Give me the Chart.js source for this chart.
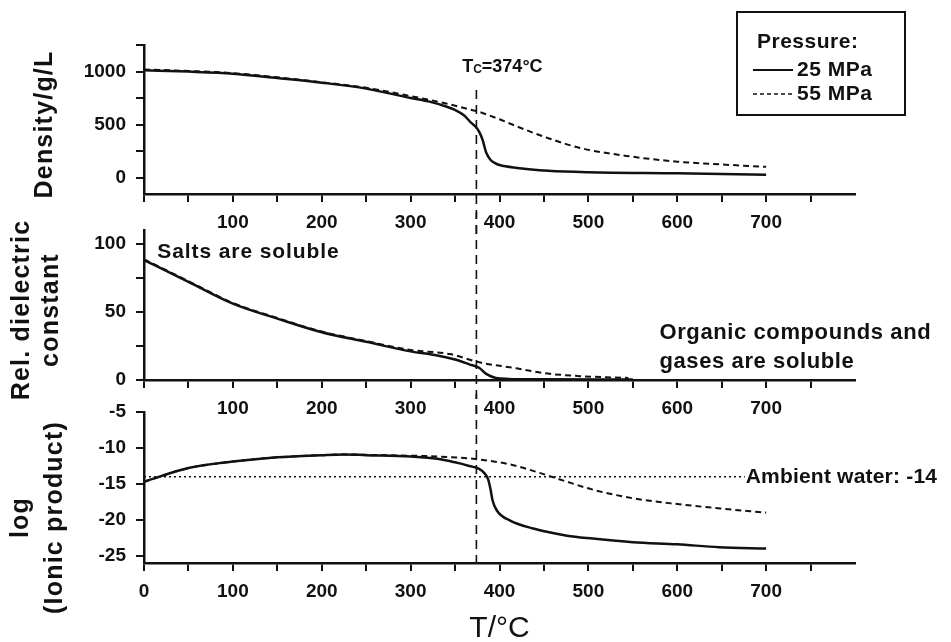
<!DOCTYPE html>
<html>
<head>
<meta charset="utf-8">
<title>Water properties vs temperature</title>
<script src="https://cdn.jsdelivr.net/npm/chart.js@4/dist/chart.umd.min.js"></script>
<style>
  html, body { margin: 0; padding: 0; background: #fff; }
  #wrap { position: relative; width: 951px; height: 642px; }
  #wrap canvas { position: absolute; left: 0; top: 0; }
</style>
</head>
<body>
<div id="wrap">
  <canvas id="densityChart" width="951" height="642"></canvas>
  <canvas id="dielectricChart" width="951" height="642"></canvas>
  <canvas id="ionicChart" width="951" height="642"></canvas>
</div>
<script>
// temperature in °C, one array per curve
const density25T = [0, 50, 100, 150, 200, 250, 300, 320, 340, 350, 360, 368, 374, 378, 381, 385, 390, 395, 400, 420, 455, 500, 600, 700];
const density25  = [1012, 1000, 981, 940, 896, 840, 752, 720, 672, 640, 590, 520, 475, 420, 358, 240, 170, 140, 122, 95, 69, 55, 44, 30];
const density55T = [0, 50, 100, 150, 200, 250, 300, 340, 366, 377, 400, 418, 455, 492, 549, 600, 647, 700];
const density55  = [1020, 1006, 986, 946, 900, 848, 770, 700, 645, 622, 552, 490, 374, 280, 201, 154, 129, 105];

const dielectric25T = [0, 25, 50, 100, 150, 200, 250, 300, 330, 350, 366, 377, 385, 396, 410, 450, 550];
const dielectric25  = [88, 80, 72, 56, 45, 35, 28, 21, 18, 15, 11.5, 9, 4.5, 1.5, 0.8, 0.5, 0.3];
const dielectric55T = [0, 25, 50, 100, 150, 200, 250, 300, 344, 377, 419, 450, 487, 520, 545];
const dielectric55  = [88.5, 80.5, 72.5, 56.5, 45.5, 35.5, 28.5, 22, 19, 13, 8.6, 5, 3, 2, 1.5];

const ionic25T = [0, 50, 100, 150, 200, 225, 250, 300, 330, 350, 366, 377, 383, 387, 390, 392, 397, 412, 438, 476, 505, 550, 600, 647, 700];
const ionic25  = [-14.7, -12.8, -11.9, -11.3, -11.0, -10.9, -11.0, -11.2, -11.5, -12.0, -12.5, -12.9, -13.5, -14.3, -15.8, -17.2, -18.7, -20.1, -21.2, -22.2, -22.6, -23.1, -23.4, -23.8, -24.0];
const ionic55T = [0, 50, 100, 150, 200, 225, 250, 288, 333, 377, 412, 446, 476, 505, 550, 600, 647, 700];
const ionic55  = [-14.7, -12.8, -11.9, -11.3, -11.0, -10.9, -10.95, -11.05, -11.2, -11.6, -12.3, -13.5, -14.7, -15.8, -17.0, -17.8, -18.4, -19.0];

const ambientT = [0, 676];
const ambient  = [-14, -14];

const TC = 374;
const xTicks = [0, 50, 100, 150, 200, 250, 300, 350, 400, 450, 500, 550, 600, 650, 700, 750];
const densityTicks = [0, 250, 500, 750, 1000, 1250];
const densityLabels = [0, 500, 1000];
const dielectricTicks = [0, 25, 50, 75, 100];
const dielectricLabels = [0, 50, 100];
const ionicTicks = [-25, -22.5, -20, -17.5, -15, -12.5, -10, -7.5, -5];
const ionicLabels = [-25, -20, -15, -10, -5];

const FONT = "'Liberation Sans', Arial, Helvetica, sans-serif";
const INK = '#111';

function xy(ts, vs) {
  return ts.map((t, i) => ({ x: t, y: vs[i] }));
}

function series(label, ts, vs, dash, width) {
  return {
    label,
    data: xy(ts, vs),
    borderColor: INK,
    borderWidth: width,
    borderDash: dash,
    pointRadius: 0,
    fill: false,
    cubicInterpolationMode: 'monotone'
  };
}

function xAxis(showZero, height, title) {
  return {
    type: 'linear', min: 0, max: 800,
    afterBuildTicks: s => { s.ticks = xTicks.map(v => ({ value: v })); },
    afterFit: s => { s.height = height; },
    border: { color: INK, width: 2.5 },
    grid: { drawOnChartArea: false, color: INK, lineWidth: 2, tickLength: 8 },
    ticks: {
      color: INK, padding: 9, maxRotation: 0, autoSkip: false,
      font: { family: FONT, size: 19, weight: 'bold' },
      callback: v => (v % 100 === 0 && v <= 700 && (showZero || v > 0)) ? String(v) : ''
    },
    title: title ? {
      display: true, text: title, color: INK,
      font: { family: FONT, size: 30, weight: 'normal', lineHeight: 0.87 },
      padding: { top: 0, bottom: 0 }
    } : { display: false }
  };
}

function yAxis(min, max, ticks, labels) {
  return {
    type: 'linear', min, max,
    afterBuildTicks: s => { s.ticks = ticks.map(v => ({ value: v })); },
    afterFit: s => { s.width = 144; },
    border: { color: INK, width: 2.5 },
    grid: { drawOnChartArea: false, color: INK, lineWidth: 2, tickLength: 8 },
    ticks: {
      color: INK, padding: 10,
      font: { family: FONT, size: 19, weight: 'bold' },
      callback: v => labels.includes(v) ? String(v) : ''
    }
  };
}

// rotated y-axis caption, one x position per line, centred on the panel (+dy)
const axisCaption = {
  id: 'axisCaption',
  afterDraw(chart, args, opts) {
    const { ctx, chartArea } = chart;
    const cy = (chartArea.top + chartArea.bottom) / 2 + (opts.dy || 0);
    ctx.save();
    ctx.fillStyle = INK;
    ctx.font = `bold 25px ${FONT}`;
    ctx.letterSpacing = '1.2px';
    ctx.textAlign = 'center';
    ctx.textBaseline = 'middle';
    opts.lines.forEach((line, i) => {
      ctx.save();
      ctx.translate(opts.x[i], cy);
      ctx.rotate(-Math.PI / 2);
      ctx.fillText(line, 0, 0);
      ctx.restore();
    });
    ctx.restore();
  }
};

// dashed vertical line at the critical temperature; the dash phase follows the
// page y so the pieces from the stacked canvases line up
const criticalLine = {
  id: 'criticalLine',
  afterDatasetsDraw(chart, args, opts) {
    const { ctx, chartArea, scales: { x, y } } = chart;
    const px = x.getPixelForValue(TC);
    const top = opts.fromValue !== undefined ? y.getPixelForValue(opts.fromValue) : chartArea.top - opts.above;
    const bottom = opts.toScaleBottom ? x.bottom : chartArea.bottom;
    ctx.save();
    ctx.strokeStyle = INK;
    ctx.lineWidth = 1.6;
    ctx.setLineDash([9, 6]);
    ctx.lineDashOffset = top;
    ctx.beginPath();
    ctx.moveTo(px, top);
    ctx.lineTo(px, bottom);
    ctx.stroke();
    ctx.restore();
  }
};

// free text placed in data coordinates
const notes = {
  id: 'notes',
  afterDatasetsDraw(chart, args, opts) {
    const { ctx, scales: { x, y } } = chart;
    ctx.save();
    ctx.fillStyle = INK;
    ctx.textAlign = 'left';
    ctx.textBaseline = 'middle';
    (opts.items || []).forEach(it => {
      let px = x.getPixelForValue(it.x);
      const py = y.getPixelForValue(it.y);
      ctx.letterSpacing = (it.spacing || 0) + 'px';
      (it.parts || [{ text: it.text }]).forEach(p => {
        ctx.font = `bold ${p.size || it.size}px ${FONT}`;
        ctx.fillText(p.text, px, py + (p.dy || 0));
        px += ctx.measureText(p.text).width;
      });
    });
    ctx.restore();
  }
};

// boxed "Pressure:" key built from the dataset styles
const pressureKey = {
  id: 'pressureKey',
  afterDraw(chart, args, opts) {
    const { ctx } = chart;
    const b = opts.box;
    ctx.save();
    ctx.strokeStyle = INK;
    ctx.lineWidth = 2;
    ctx.setLineDash([]);
    ctx.strokeRect(b.x, b.y, b.w, b.h);
    ctx.fillStyle = INK;
    ctx.textBaseline = 'middle';
    ctx.font = `bold 21px ${FONT}`;
    ctx.letterSpacing = '0.5px';
    ctx.fillText(opts.title, b.x + 20, b.y + 30);
    chart.data.datasets.forEach((ds, i) => {
      const ly = b.y + 58 + i * 24;
      ctx.lineWidth = ds.borderWidth - 0.5;
      ctx.setLineDash(ds.borderDash.length ? [4, 3] : []);
      ctx.beginPath();
      ctx.moveTo(b.x + 16, ly);
      ctx.lineTo(b.x + 56, ly);
      ctx.stroke();
      ctx.fillText(ds.label, b.x + 60, ly);
    });
    ctx.restore();
  }
};

function baseOptions(padding, scales, plugins) {
  return {
    responsive: false,
    animation: false,
    devicePixelRatio: 1,
    events: [],
    layout: { padding },
    scales,
    plugins: Object.assign({ legend: { display: false }, tooltip: { enabled: false } }, plugins)
  };
}

new Chart(document.getElementById('densityChart'), {
  type: 'line',
  data: {
    datasets: [
      series('25 MPa', density25T, density25, [], 2.5),
      series('55 MPa', density55T, density55, [6, 4], 2)
    ]
  },
  options: baseOptions(
    { top: 45, right: 96, bottom: 408, left: 0 },
    {
      x: xAxis(false, 40),
      y: yAxis(-150, 1250, densityTicks, densityLabels)
    },
    {
      axisCaption: { lines: ['Density/g/L'], x: [45], dy: 5 },
      criticalLine: { fromValue: 850, toScaleBottom: true },
      notes: {
        items: [{
          x: 358, y: 1047, size: 18,
          parts: [{ text: 'T', size: 18 }, { text: 'C', size: 12, dy: 3 }, { text: '=374°C', size: 18 }]
        }]
      },
      pressureKey: { title: 'Pressure:', box: { x: 737, y: 12, w: 168, h: 103 } }
    }
  ),
  plugins: [axisCaption, criticalLine, notes, pressureKey]
});

new Chart(document.getElementById('dielectricChart'), {
  type: 'line',
  data: {
    datasets: [
      series('25 MPa', dielectric25T, dielectric25, [], 2.5),
      series('55 MPa', dielectric55T, dielectric55, [6, 4], 2)
    ]
  },
  options: baseOptions(
    { top: 230, right: 96, bottom: 222, left: 0 },
    {
      x: xAxis(false, 40),
      y: yAxis(0, 110, dielectricTicks, dielectricLabels)
    },
    {
      axisCaption: { lines: ['Rel. dielectric', 'constant'], x: [22, 51], dy: 5 },
      criticalLine: { above: 18, toScaleBottom: true },
      notes: {
        items: [
          { x: 15, y: 93.5, size: 21, spacing: 0.9, text: 'Salts are soluble' },
          { x: 580, y: 34.3, size: 22, spacing: 0.6, text: 'Organic compounds and' },
          { x: 580, y: 13.1, size: 22, spacing: 0.6, text: 'gases are soluble' }
        ]
      }
    }
  ),
  plugins: [axisCaption, criticalLine, notes]
});

new Chart(document.getElementById('ionicChart'), {
  type: 'line',
  data: {
    datasets: [
      series('25 MPa', ionic25T, ionic25, [], 2.5),
      series('55 MPa', ionic55T, ionic55, [6, 4], 2),
      series('Ambient water', ambientT, ambient, [2, 3], 1.5)
    ]
  },
  options: baseOptions(
    { top: 412, right: 96, bottom: 0, left: 0 },
    {
      x: xAxis(true, 79, 'T/°C'),
      y: yAxis(-26, -5, ionicTicks, ionicLabels)
    },
    {
      axisCaption: { lines: ['log', '(Ionic product)'], x: [21, 55], dy: 30 },
      criticalLine: { above: 18, toScaleBottom: false },
      notes: {
        items: [{ x: 677, y: -14, size: 21, spacing: 0.2, text: 'Ambient water: -14' }]
      }
    }
  ),
  plugins: [axisCaption, criticalLine, notes]
});
</script>
</body>
</html>
